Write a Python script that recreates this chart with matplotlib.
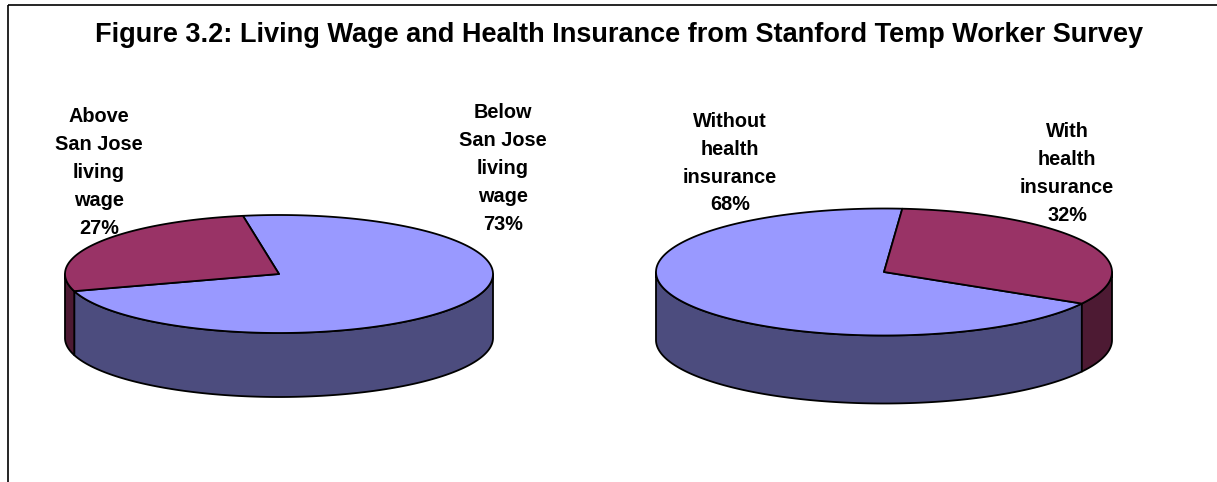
import numpy as np
import matplotlib
matplotlib.use("Agg")
import matplotlib.pyplot as plt
from matplotlib.patches import Polygon, Rectangle

plt.rcParams['font.family'] = ['Liberation Sans', 'DejaVu Sans']

# DATA
title = "Figure 3.2: Living Wage and Health Insurance from Stanford Temp Worker Survey"

wage_labels = ["Below\nSan Jose\nliving\nwage", "Above\nSan Jose\nliving\nwage"]
wage_values = [73, 27]

health_labels = ["Without\nhealth\ninsurance", "With\nhealth\ninsurance"]
health_values = [68, 32]

top_colors = ["#9999FF", "#993366"]
side_colors = ["#4C4C7E", "#4D1A33"]


def slice_angles(values, start):
    # excel style: first slice starts at `start` and runs clockwise
    fr = np.array(values, dtype=float) / np.sum(values)
    ends = start - np.cumsum(fr) * 360
    starts = np.concatenate([[start], ends[:-1]])
    return list(zip(ends, starts))  # (lo, hi) in ccw degrees


def ellipse_pts(cx, cy, a, b, t0, t1, dy=0, n=200):
    t = np.radians(np.linspace(t0, t1, n))
    return np.column_stack([cx + a * np.cos(t), cy - b * np.sin(t) + dy])


def draw_pie3d(ax, values, start, cx, cy, a, b, h):
    angles = slice_angles(values, start)
    # side walls, only the front half is visible
    for (lo, hi), col in zip(angles, side_colors):
        for k in (-2, -1, 0, 1):
            vlo = max(lo, 180 + 360 * k)
            vhi = min(hi, 360 + 360 * k)
            if vhi <= vlo:
                continue
            top = ellipse_pts(cx, cy, a, b, vlo, vhi)
            bot = ellipse_pts(cx, cy, a, b, vhi, vlo, dy=h)
            ax.add_patch(Polygon(np.vstack([top, bot]), closed=True, facecolor=col,
                                 edgecolor='black', lw=1.3, joinstyle='round'))
    # top face
    for (lo, hi), col in zip(angles, top_colors):
        arc = ellipse_pts(cx, cy, a, b, lo, hi)
        pts = np.vstack([[cx, cy], arc])
        ax.add_patch(Polygon(pts, closed=True, facecolor=col, edgecolor='black',
                             lw=1.3, joinstyle='round'))


def put_label(ax, x, y0, text, pct, step=28):
    lines = text.split("\n") + [f"{pct}%"]
    for i, s in enumerate(lines):
        ax.text(x, y0 + i * step, s, ha='center', va='baseline', fontsize=14.3,
                fontweight='bold', color='black')


fig = plt.figure(figsize=(12.17, 4.82), dpi=100)
ax = fig.add_axes([0, 0, 1, 1])
ax.set_xlim(0, 1217)
ax.set_ylim(482, 0)
ax.axis('off')

# chart frame (only top and left edges are inside the picture)
ax.add_patch(Rectangle((8, 5), 1400, 600, fill=False, edgecolor='black', lw=1.2))

ax.text(619, 42, title, ha='center', va='baseline', fontsize=19.5, fontweight='bold')

draw_pie3d(ax, wage_values, 99.7, 279, 274, 214, 59, 64)
draw_pie3d(ax, health_values, -29.8, 884, 272, 228, 63.5, 68)

put_label(ax, 503, 118, wage_labels[0], wage_values[0])
put_label(ax, 99, 122, wage_labels[1], wage_values[1])
put_label(ax, 730, 127, health_labels[0], health_values[0], step=27.8)
put_label(ax, 1067, 137, health_labels[1], health_values[1], step=27.9)

fig.savefig("out.png", dpi=100)
